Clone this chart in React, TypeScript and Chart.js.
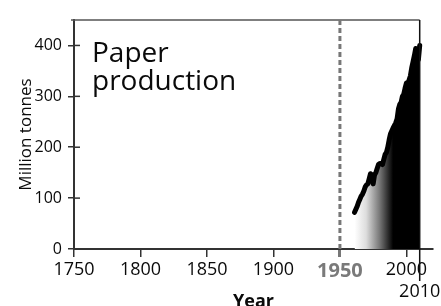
import React, { useEffect, useRef } from "react";
import { Chart, registerables } from "chart.js";

Chart.register(...registerables);

const years = [
  1961, 1962, 1963, 1964, 1965, 1966, 1967, 1968, 1969, 1970,
  1971, 1972, 1973, 1974, 1975, 1976, 1977, 1978, 1979, 1980,
  1981, 1982, 1983, 1984, 1985, 1986, 1987, 1988, 1989, 1990,
  1991, 1992, 1993, 1994, 1995, 1996, 1997, 1998, 1999, 2000,
  2001, 2002, 2003, 2004, 2005, 2006, 2007, 2008, 2009, 2010,
];
const production = [
  72, 78, 84, 92, 98, 104, 108, 114, 122, 126,
  128, 138, 148, 146, 128, 145, 150, 158, 166, 168,
  168, 166, 176, 186, 190, 200, 214, 226, 232, 238,
  243, 248, 256, 275, 284, 288, 300, 304, 316, 326,
  322, 332, 340, 356, 368, 380, 394, 392, 372, 400,
];
const xTickValues = [1750, 1800, 1850, 1900, 1950, 2000];
const yTickValues = [0, 100, 200, 300, 400];
const markerYear = 1950;
const endYear = 2010;
const endLabel = "2010";
const titleLines = ["Paper", "production"];
const xAxisTitle = "Year";
const yAxisTitle = "Million tonnes";

const FONT = "'Open Sans', 'Noto Sans', sans-serif";
const AXIS = "#333";
const TEXT = "#0a0a0a";

const decor = {
  id: "decor",
  beforeDatasetsDraw(chart: any) {
    const { ctx, chartArea, scales } = chart;
    const x = scales.x;
    const y = scales.y;
    ctx.save();
    ctx.strokeStyle = "#555";
    ctx.lineWidth = 1.5;
    const xEnd = x.getPixelForValue(endYear);
    ctx.beginPath();
    ctx.moveTo(chartArea.left - 3, chartArea.top);
    ctx.lineTo(xEnd, chartArea.top);
    ctx.stroke();
    const xm = x.getPixelForValue(markerYear);
    ctx.strokeStyle = "#777";
    ctx.lineWidth = 3;
    ctx.setLineDash([5, 3]);
    ctx.beginPath();
    ctx.moveTo(xm, chartArea.top);
    ctx.lineTo(xm, chartArea.bottom);
    ctx.stroke();
    ctx.setLineDash([]);
    ctx.strokeStyle = AXIS;
    ctx.lineWidth = 1.5;
    for (const v of yTickValues) {
      const py = y.getPixelForValue(v);
      ctx.beginPath();
      ctx.moveTo(chartArea.left, py);
      ctx.lineTo(chartArea.left + 6, py);
      ctx.stroke();
    }
    ctx.restore();
  },
  afterDraw(chart: any) {
    const { ctx, chartArea, scales } = chart;
    const x = scales.x;
    ctx.save();
    const xe = x.getPixelForValue(endYear);
    ctx.strokeStyle = "#111";
    ctx.lineWidth = 1.5;
    ctx.beginPath();
    ctx.moveTo(xe, chartArea.top);
    ctx.lineTo(xe, chartArea.bottom + 32);
    ctx.stroke();
    ctx.fillStyle = TEXT;
    ctx.font = `18px ${FONT}`;
    ctx.textAlign = "center";
    ctx.textBaseline = "alphabetic";
    ctx.fillText(endLabel, xe, chartArea.bottom + 48);
    ctx.textAlign = "left";
    ctx.font = `28px ${FONT}`;
    ctx.fillText(titleLines[0], chartArea.left + 18, chartArea.top + 42);
    ctx.fillText(titleLines[1], chartArea.left + 18, chartArea.top + 70);
    ctx.restore();
  },
};

export default function App() {
  const ref = useRef<HTMLCanvasElement | null>(null);
  useEffect(() => {
    document.body.style.margin = "0";
    const canvas = ref.current;
    if (!canvas) return;
    const points = years.map((yr, i) => ({ x: yr, y: production[i] }));
    const chart = new Chart(canvas, {
      type: "line",
      data: {
        datasets: [
          {
            data: points,
            borderColor: "#000",
            borderWidth: 5,
            borderJoinStyle: "round",
            borderCapStyle: "round",
            pointRadius: 0,
            tension: 0,
            fill: "origin",
            backgroundColor: (c: any) => {
              const ch = c.chart;
              const area = ch.chartArea;
              if (!area) return "#888";
              const sx = ch.scales.x;
              const x0 = sx.getPixelForValue(1961);
              const x1 = sx.getPixelForValue(1990);
              const g = ch.ctx.createLinearGradient(x0, 0, x1, 0);
              g.addColorStop(0, "#ffffff");
              g.addColorStop(0.3, "#dddddd");
              g.addColorStop(0.65, "#777777");
              g.addColorStop(1, "#000000");
              return g;
            },
          },
        ],
      },
      options: {
        animation: false,
        responsive: false,
        layout: { padding: { top: 20, right: 8, left: 0, bottom: 0 } },
        plugins: { legend: { display: false }, tooltip: { enabled: false } },
        scales: {
          x: {
            type: "linear",
            min: 1750,
            max: 2020,
            afterBuildTicks: (s: any) => {
              s.ticks = xTickValues.map((v) => ({ value: v }));
            },
            afterFit: (s: any) => {
              s.height = 57;
            },
            grid: {
              drawOnChartArea: false,
              drawTicks: true,
              tickLength: 8,
              color: (c: any) => (c.tick && c.tick.value === markerYear ? "#777" : AXIS),
              lineWidth: (c: any) => (c.tick && c.tick.value === markerYear ? 3 : 1.5),
            },
            border: { display: true, color: AXIS, width: 2 },
            ticks: {
              padding: 2,
              autoSkip: false,
              maxRotation: 0,
              callback: (v: any) => String(v),
              color: (c: any) => (c.tick && c.tick.value === markerYear ? "#7a7a7a" : TEXT),
              font: (c: any) =>
                c.tick && c.tick.value === markerYear
                  ? { family: FONT, size: 20, weight: "bold" }
                  : { family: FONT, size: 18 },
            },
            title: {
              display: true,
              text: xAxisTitle,
              color: TEXT,
              padding: 0,
              font: { family: FONT, size: 18, weight: "bold", lineHeight: 0.5 },
            },
          },
          y: {
            min: 0,
            max: 450,
            afterBuildTicks: (s: any) => {
              s.ticks = yTickValues.map((v) => ({ value: v }));
            },
            afterFit: (s: any) => {
              s.width = 74;
            },
            grid: { drawOnChartArea: false, tickLength: 6, color: AXIS, lineWidth: 1.5 },
            border: { display: true, color: AXIS, width: 2 },
            ticks: { padding: 6, color: TEXT, font: { family: FONT, size: 16 } },
            title: {
              display: true,
              text: yAxisTitle,
              color: TEXT,
              padding: { top: 16, bottom: 0 },
              font: { family: FONT, size: 17 },
            },
          },
        },
      },
      plugins: [decor],
    } as any);
    return () => chart.destroy();
  }, []);
  return (
    <div style={{ width: 441, height: 306 }}>
      <canvas ref={ref} width={441} height={306} style={{ display: "block" }} />
    </div>
  );
}
